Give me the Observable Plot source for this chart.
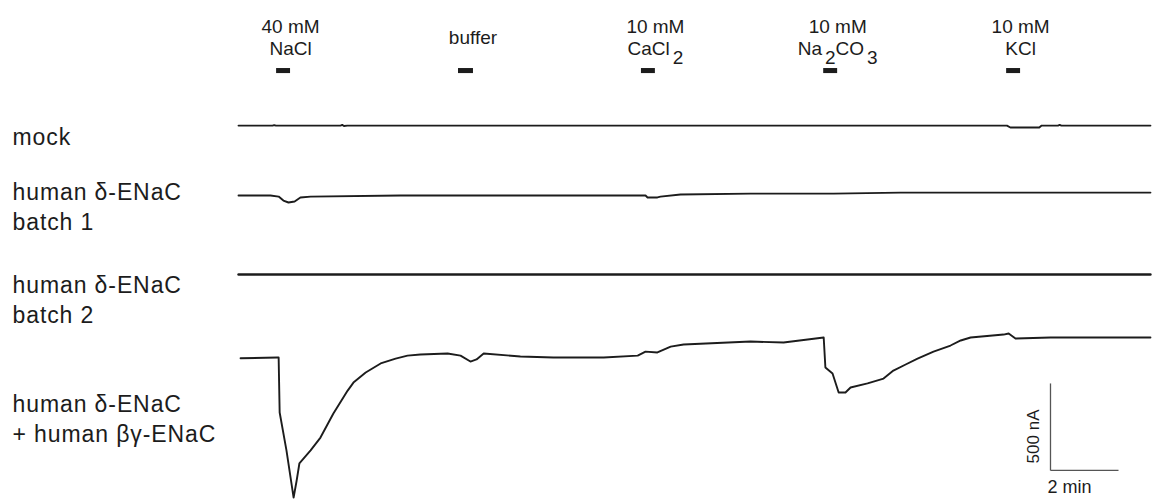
<!DOCTYPE html>
<html><head><meta charset="utf-8">
<script src="https://cdn.jsdelivr.net/npm/d3@7"></script>
<script src="https://cdn.jsdelivr.net/npm/@observablehq/plot@0.6"></script>
<style>body{margin:0;background:#fff;} #chart svg{display:block;} .trace-label text{letter-spacing:0.9px;}</style>
</head><body><div id="chart"></div>
<script>
// ---- data (time in min, current in nA relative to each trace's baseline) ----
const traceLabels = ["mock", "human δ-ENaC\nbatch 1", "human δ-ENaC\nbatch 2", "human δ-ENaC\n+ human βγ-ENaC"];
const traceOffsets = [1333, 931, 477, 0]; // vertical stacking of the traces, nA

const mockTrace = [[0,0],[1.0,0],[1.05,3],[1.1,0],[3.0,0],[3.05,4],[3.1,-2],[3.2,0],[5.2,0],[8.0,0],[12.0,0],[15.0,0],[17.0,0],[19.0,0],[21.0,0],[22.6,0],[22.7,-11],[23.55,-11],[23.62,0],[24.1,0],[24.15,4],[24.2,0],[26.82,0]];
const batch1Trace = [[0,0],[0.94,0],[1.18,-6],[1.32,-29],[1.47,-40],[1.65,-34],[1.82,-11],[2.12,-6],[4.76,0],[8.0,0],[11.97,0],[12.03,-11],[12.32,-11],[12.41,-6],[13.0,6],[15.06,11],[17.5,11],[19.47,17],[26.82,17]];
const batch2Trace = [[0,0],[5.0,0],[10.0,0],[15.0,0],[20.0,0],[26.82,0]];
const coexpTrace = [[0.06,-4],[1.15,0],[1.18,0],[1.21,-316],[1.41,-534],[1.62,-805],[1.71,-707],[1.79,-609],[2.12,-534],[2.41,-460],[2.79,-322],[3.21,-190],[3.38,-144],[3.74,-86],[4.18,-34],[4.62,-6],[4.97,11],[5.35,17],[6.15,23],[6.53,11],[6.82,-23],[7.0,-11],[7.21,23],[8.29,6],[9.26,0],[10.74,0],[11.74,11],[11.97,34],[12.32,29],[12.71,63],[13.09,75],[15.06,92],[16.03,86],[17.21,115],[17.26,-57],[17.47,-92],[17.65,-201],[17.85,-201],[18.0,-172],[18.5,-149],[18.97,-121],[19.26,-75],[19.62,-40],[19.97,-6],[20.44,34],[20.94,69],[21.24,98],[21.53,115],[22.5,132],[22.65,138],[22.85,109],[23.88,115],[26.82,115]];
const traces = [mockTrace, batch1Trace, batch2Trace, coexpTrace];

const stimStart = [1.12, 6.47, 11.85, 17.21, 22.59];
const stimEnd   = [1.53, 6.91, 12.26, 17.62, 23.00];
const stimConc  = ["40 mM", "", "10 mM", "10 mM", "10 mM"];
const stimName  = ["NaCl", "buffer", "CaCl_2", "Na_2CO_3", "KCl"];

const scaleBarTime = 23.88, scaleBarCurrent = -649; // origin of scale bar
const scaleBarNA = 500, scaleBarMin = 2;

// ---- layout ----
const W = 1152, H = 499;
const font = "'Liberation Sans', Arial, Helvetica, sans-serif";
const ink = "#1c1c1c";

const lineRows = [];
traces.forEach((tr, i) => tr.forEach(([t, v]) => lineRows.push({trace: i, t, v: v + traceOffsets[i]})));
const stim = stimStart.map((s, i) => ({s, e: stimEnd[i], mid: (s + stimEnd[i]) / 2,
  label: stimConc[i] ? stimConc[i] + "\n" + stimName[i] : stimName[i]}));

const labelAnchorsPx = [134.6, 205, 298, 417];
const labelMarks = traceLabels.map((lab, i) => Plot.text([lab], {
  frameAnchor: "top-left", text: d => d, dx: 12, dy: labelAnchorsPx[i],
  textAnchor: "start", lineAnchor: "middle", lineHeight: 1.3,
  fontSize: 23, fill: ink, fontFamily: font, className: "trace-label"
}));

const chart = Plot.plot({
  width: W, height: H,
  marginLeft: 0, marginRight: 0, marginTop: 0, marginBottom: 0,
  x: {domain: [-7, 26.88], axis: null},
  y: {domain: [-816, 2052], axis: null},
  style: {background: "#fff", fontFamily: font},
  marks: [
    Plot.line(lineRows, {x: "t", y: "v", z: "trace", stroke: ink, strokeWidth: d => d.trace === 2 ? 2.4 : 1.9, strokeLinejoin: "round"}),
    Plot.rect(stim, {x1: "s", x2: "e", y1: 1632, y2: 1661, fill: ink}),
    Plot.text(stim, {x: "mid", frameAnchor: "top", dy: 36.9, dx: 7, text: "label", lineAnchor: "middle", lineHeight: 1.158, fontSize: 19, fill: ink}),
    ...labelMarks,
    Plot.link([0], {x1: () => scaleBarTime, x2: () => scaleBarTime, y1: () => scaleBarCurrent, y2: () => scaleBarCurrent + scaleBarNA, stroke: "#555", strokeWidth: 1.3}),
    Plot.link([0], {x1: () => scaleBarTime, x2: () => scaleBarTime + scaleBarMin, y1: () => scaleBarCurrent, y2: () => scaleBarCurrent, stroke: "#555", strokeWidth: 1.3}),
    Plot.text([`${scaleBarNA} nA`], {x: () => scaleBarTime, y: () => scaleBarCurrent + scaleBarNA / 2, text: d => d, rotate: -90, dx: -17.4, dy: 9.5, fontSize: 17, fill: ink}),
    Plot.text([`${scaleBarMin} min`], {x: () => scaleBarTime, y: () => scaleBarCurrent, text: d => d, textAnchor: "start", dx: -3, dy: 17, fontSize: 18, fill: ink})
  ]
});

// render chemical subscripts ("CaCl_2" -> CaCl with subscript 2)
d3.select(chart).selectAll("tspan, text").each(function() {
  const el = this;
  if (el.childElementCount > 0) return;
  const s = el.textContent;
  if (!s.includes("_")) return;
  el.textContent = "";
  const parts = s.split(/_(\d)/);
  let down = false;
  parts.forEach((p, k) => {
    if (!p) return;
    if (k % 2 === 1) {
      const ts = document.createElementNS("http://www.w3.org/2000/svg", "tspan");
      ts.setAttribute("dy", down ? "0" : "9"); ts.setAttribute("dx", "3");
      ts.textContent = p; el.appendChild(ts); down = true;
    } else if (down) {
      const ts = document.createElementNS("http://www.w3.org/2000/svg", "tspan");
      ts.setAttribute("dy", "-9"); ts.textContent = p; el.appendChild(ts); down = false;
    } else {
      el.appendChild(document.createTextNode(p));
    }
  });
});

document.getElementById("chart").appendChild(chart);
</script>
</body></html>
